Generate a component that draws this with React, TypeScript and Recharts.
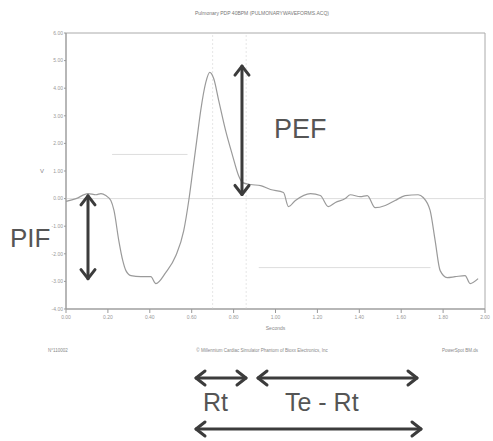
import React from 'react'
import { LineChart, Line, XAxis, YAxis, ReferenceLine, ReferenceArea } from 'recharts'

// waveform (seconds, volts)
const seconds = [0, 0.048, 0.105, 0.143, 0.167, 0.19, 0.214, 0.229, 0.252, 0.271, 0.286, 0.31, 0.357, 0.405, 0.429, 0.476, 0.524, 0.562, 0.586, 0.605, 0.624, 0.643, 0.667, 0.686, 0.705, 0.729, 0.762, 0.795, 0.824, 0.843, 0.881, 0.929, 0.976, 1.038, 1.062, 1.095, 1.167, 1.214, 1.252, 1.286, 1.333, 1.357, 1.405, 1.438, 1.476, 1.524, 1.571, 1.619, 1.681, 1.705, 1.738, 1.762, 1.786, 1.819, 1.857, 1.905, 1.929, 1.967]
const volts = [-0.1, 0.0, 0.18, 0.14, 0.18, 0.11, -0.07, -0.43, -1.52, -2.25, -2.61, -2.79, -2.83, -2.83, -3.08, -2.68, -2.07, -1.16, -0.07, 1.01, 2.1, 3.19, 4.2, 4.57, 4.35, 3.55, 2.46, 1.56, 0.83, 0.58, 0.51, 0.47, 0.33, 0.22, -0.29, -0.07, 0.18, 0.11, -0.29, -0.14, 0.0, 0.14, 0.07, 0.11, -0.33, -0.25, -0.07, 0.11, 0.14, 0.04, -0.43, -1.52, -2.61, -2.86, -2.83, -2.79, -3.08, -2.9]

const xTicks = [0, 0.2, 0.4, 0.6, 0.8, 1.0, 1.2, 1.4, 1.6, 1.8, 2.0]
const yTicks = [-4, -3, -2, -1, 0, 1, 2, 3, 4, 5, 6]

const data = seconds.map((t, i) => ({ t, v: volts[i] }))

const FONT = '"Liberation Sans", Arial, sans-serif'
const DARK = '#3c3c3c'

// double headed arrow with open chevron heads
const DoubleArrow = (props: any) => {
    const { x1, y1, x2, y2 } = props
    const dx = x2 - x1
    const dy = y2 - y1
    const len = Math.sqrt(dx * dx + dy * dy) || 1
    const ux = dx / len
    const uy = dy / len
    const h = 9
    const w = 7
    const head = (x: number, y: number, dir: number) => {
        const bx = x - dir * ux * h
        const by = y - dir * uy * h
        return `M${bx - uy * w},${by + ux * w} L${x},${y} L${bx + uy * w},${by - ux * w}`
    }
    return (
        <g stroke={DARK} strokeWidth={3} fill="none" strokeLinecap="round" strokeLinejoin="round">
            <line x1={x1} y1={y1} x2={x2} y2={y2} />
            <path d={head(x1, y1, -1)} />
            <path d={head(x2, y2, 1)} />
        </g>
    )
}

export default function App() {
    const tickStyle = { fontSize: 5, fill: '#999', fontFamily: FONT }
    return (
        <div style={{ position: 'absolute', left: 0, top: 0, width: 493, height: 441, background: '#fff' }}>
            <LineChart width={493} height={441} data={data} margin={{ top: 33, right: 8, left: 0, bottom: 102 }}>
                <XAxis
                    dataKey="t"
                    type="number"
                    domain={[0, 2]}
                    ticks={xTicks}
                    tickFormatter={(v: number) => v.toFixed(2)}
                    tick={tickStyle}
                    tickSize={4}
                    height={30}
                    stroke="#999"
                    label={{ value: 'Seconds', position: 'bottom', offset: -13, fontSize: 5, fill: '#888', fontFamily: FONT }}
                />
                <YAxis
                    type="number"
                    domain={[-4, 6]}
                    ticks={yTicks}
                    tickFormatter={(v: number) => v.toFixed(2)}
                    tick={tickStyle}
                    tickSize={2}
                    tickMargin={1}
                    width={66}
                    stroke="#999"
                    label={{ value: 'V', position: 'insideLeft', offset: 40, fontSize: 6, fill: '#888', fontFamily: FONT }}
                />
                <ReferenceArea x1={0} x2={2} y1={-4} y2={6} fill="none" fillOpacity={0} stroke="#aaa" strokeWidth={1} />
                <ReferenceLine y={0} stroke="#ddd" />
                <ReferenceLine x={0.7} stroke="#e6e6e6" strokeDasharray="2 2" />
                <ReferenceLine x={0.86} stroke="#e6e6e6" strokeDasharray="2 2" />
                <ReferenceLine segment={[{ x: 0.22, y: 1.6 }, { x: 0.58, y: 1.6 }]} stroke="#ddd" />
                <ReferenceLine segment={[{ x: 0.92, y: -2.5 }, { x: 1.74, y: -2.5 }]} stroke="#ddd" />
                <Line
                    type="monotone"
                    dataKey="v"
                    stroke="#9a9a9a"
                    strokeWidth={1.2}
                    dot={false}
                    isAnimationActive={false}
                />
                <ReferenceLine segment={[{ x: 0.105, y: 0.1 }, { x: 0.105, y: -2.9 }]} shape={DoubleArrow} />
                <ReferenceLine segment={[{ x: 0.84, y: 4.8 }, { x: 0.84, y: 0.15 }]} shape={DoubleArrow} />
            </LineChart>
            <svg width={493} height={441} style={{ position: 'absolute', left: 0, top: 0, pointerEvents: 'none' }}>
                <text x={262} y={15} textAnchor="middle" fontSize={5} fill="#777" fontFamily={FONT}>
                    Pulmonary  PDP 40BPM (PULMONARYWAVEFORMS.ACQ)
                </text>
                <text x={48} y={352} fontSize={4.5} fill="#888" fontFamily={FONT}>N°110002</text>
                <text x={262} y={352} textAnchor="middle" fontSize={4.5} fill="#888" fontFamily={FONT}>
                    © Millennium Cardiac Simulator Phantom of Bioxx Electronics, Inc
                </text>
                <text x={478} y={352} textAnchor="end" fontSize={4.5} fill="#888" fontFamily={FONT}>PowerSpot  BM.ds</text>
                <text x={10} y={247} fontSize={26} fill="#555" fontFamily={FONT}>PIF</text>
                <text x={274} y={138} fontSize={27} fill="#555" fontFamily={FONT}>PEF</text>
                <text x={203} y={411} fontSize={25} fill="#555" fontFamily={FONT}>Rt</text>
                <text x={285} y={411} fontSize={25} fill="#555" fontFamily={FONT}>Te - Rt</text>
                <DoubleArrow x1={196} y1={378} x2={246} y2={378} />
                <DoubleArrow x1={258} y1={378} x2={417} y2={378} />
                <DoubleArrow x1={196} y1={429} x2={421} y2={429} />
            </svg>
        </div>
    )
}
